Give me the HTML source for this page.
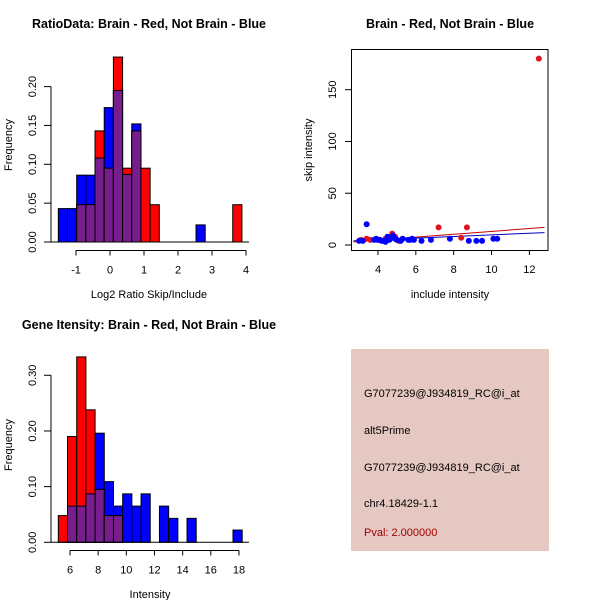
<!DOCTYPE html>
<html><head><meta charset="utf-8"><style>
body{margin:0;background:#fff}
svg text{font-family:"Liberation Sans",sans-serif}
</style></head><body>
<svg id="c" width="600" height="600" xmlns="http://www.w3.org/2000/svg">
<rect width="600" height="600" fill="#fff"/>
<text x="149" y="28" font-size="12.5" font-weight="bold" text-anchor="middle">RatioData: Brain - Red, Not Brain - Blue</text>
<text x="450" y="28" font-size="12.5" font-weight="bold" text-anchor="middle">Brain - Red, Not Brain - Blue</text>
<text x="149" y="329" font-size="12.5" font-weight="bold" text-anchor="middle">Gene Itensity: Brain - Red, Not Brain - Blue</text>
<text x="149" y="298" font-size="11" text-anchor="middle">Log2 Ratio Skip/Include</text>
<text x="150" y="598" font-size="11" text-anchor="middle">Intensity</text>
<text x="450" y="298" font-size="11" text-anchor="middle">include intensity</text>
<text transform="translate(12,145) rotate(-90)" font-size="11" text-anchor="middle">Frequency</text>
<text transform="translate(12,445) rotate(-90)" font-size="11" text-anchor="middle">Frequency</text>
<text transform="translate(312,150) rotate(-90)" font-size="11" text-anchor="middle">skip intensity</text>
<g>
<rect x="351" y="349" width="198" height="202" fill="#e6c8c2"/>
<text x="364" y="397" font-size="11">G7077239@J934819_RC@i_at</text>
<text x="364" y="434" font-size="11">alt5Prime</text>
<text x="364" y="471" font-size="11">G7077239@J934819_RC@i_at</text>
<text x="364" y="507" font-size="11">chr4.18429-1.1</text>
<text x="364" y="536" font-size="11" fill="#a00000">Pval: 2.000000</text>
</g>
</svg>
<script>
// Ratio histogram data
const ratioStart = -1.52, ratioWidth = 0.27;
const ratioBlue = [0.043,0.043,0.086,0.086,0.108,0.173,0.195,0.087,0.152,0,0,0,0,0,0,0.022,0,0,0,0];
const ratioRed  = [0,0,0.048,0.048,0.143,0.095,0.238,0.095,0.143,0.095,0.048,0,0,0,0,0,0,0,0,0.048];
const ratioXTicks = [-1,0,1,2,3,4];
const ratioYTicks = ["0.00","0.05","0.10","0.15","0.20"];
// Intensity histogram data
const intStart = 5.17, intWidth = 0.653;
const intBlue = [0,0.065,0.065,0.087,0.196,0.109,0.065,0.087,0.065,0.087,0,0.065,0.043,0,0.043,0,0,0,0,0.022];
const intRed  = [0.048,0.19,0.333,0.238,0.095,0.048,0.048,0,0,0,0,0,0,0,0,0,0,0,0,0];
const intXTicks = [6,8,10,12,14,16,18];
const intYTicks = ["0.00","0.10","0.20","0.30"];
// Scatter data
const redX = [12.5,7.2,8.7,8.4,4.75,3.4,3.1,4.9,4.4,5.1,4.0,3.6];
const redY = [180,17,17,7,11,6,5,8,6,4,5,5];
const blueX = [3.4,3.0,3.2,3.8,3.9,4.0,4.1,4.2,4.3,4.4,4.5,4.6,4.7,4.8,4.9,5.0,5.2,5.3,5.6,5.7,5.8,5.9,6.3,6.8,7.8,8.8,9.2,9.5,10.1,10.3];
const blueY = [20,4,4,5,6,5,5,4,4,3,8,5,7,9,6,5,4,6,5,5,6,5,4,5,6,4,4,4,6,6];
const lineX = [2.7,12.8];
const redLineY = [3,17];
const blueLineY = [4,12];
const scXTicks = [4,6,8,10,12];
const scYTicks = [0,50,100,150];

const svg = document.getElementById('c');
const NS = 'http://www.w3.org/2000/svg';
function mk(tag, attrs){const e=document.createElementNS(NS,tag);for(const k in attrs)e.setAttribute(k,attrs[k]);svg.appendChild(e);return e;}
const PURPLE='#781e8c';

function hist(start,width,blue,red,xs,ys,xTicks,yTicks,axisY,prefix){
  const n=blue.length;
  for(let i=0;i<n;i++){
    const x0=xs(start+i*width), x1=xs(start+(i+1)*width);
    const b=blue[i], r=red[i], m=Math.min(b,r);
    if(b>0){const e=mk('rect',{x:x0,y:ys(b),width:x1-x0,height:ys(0)-ys(b),fill:'#0000ff',stroke:'#000','stroke-width':1});
      
      }
    if(r>0){const e=mk('rect',{x:x0,y:ys(r),width:x1-x0,height:ys(0)-ys(r),fill:'#ff0000',stroke:'#000','stroke-width':1});
      
      }
    if(m>0){const e=mk('rect',{x:x0,y:ys(m),width:x1-x0,height:ys(0)-ys(m),fill:PURPLE,stroke:'#000','stroke-width':1});
      
      }
  }
  mk('line',{x1:51,x2:249,y1:ys(0),y2:ys(0),stroke:'#000'});
  const yv=yTicks.map(Number);
  mk('line',{x1:51,x2:51,y1:ys(yv[0]),y2:ys(yv[yv.length-1]),stroke:'#000'});
  yTicks.forEach(t=>{const y=ys(+t);mk('line',{x1:44,x2:51,y1:y,y2:y,stroke:'#000'});
    const tx=mk('text',{transform:`translate(36,${y}) rotate(-90)`,'font-size':11,'text-anchor':'middle'});tx.textContent=t;
    
    });
  mk('line',{x1:xs(xTicks[0]),x2:xs(xTicks[xTicks.length-1]),y1:axisY,y2:axisY,stroke:'#000'});
  xTicks.forEach(t=>{const x=xs(t);mk('line',{x1:x,x2:x,y1:axisY,y2:axisY+5,stroke:'#000'});
    const tx=mk('text',{x:x,y:axisY+23,'font-size':11,'text-anchor':'middle'});tx.textContent=t;
    
    });
}
hist(ratioStart,ratioWidth,ratioBlue,ratioRed,v=>76+(v+1)*34,v=>242-v*777,ratioXTicks,ratioYTicks,250.5,'ratio');
hist(intStart,intWidth,intBlue,intRed,v=>70+(v-6)*14.08,v=>542.3-v*556.7,intXTicks,intYTicks,550.5,'intensity');

const sx=v=>378+(v-4)*18.92, sy=v=>245-v*1.0353;
mk('rect',{x:351.5,y:49.5,width:196.5,height:201,fill:'none',stroke:'#000'});
const clip=mk('clipPath',{id:'clp'});
const cr=document.createElementNS(NS,'rect');cr.setAttribute('x',352);cr.setAttribute('y',50);cr.setAttribute('width',196);cr.setAttribute('height',200);clip.appendChild(cr);
const rl=mk('line',{x1:sx(lineX[0]),x2:sx(lineX[1]),y1:sy(redLineY[0]),y2:sy(redLineY[1]),stroke:'#c00000','clip-path':'url(#clp)'});


const bl=mk('line',{x1:sx(lineX[0]),x2:sx(lineX[1]),y1:sy(blueLineY[0]),y2:sy(blueLineY[1]),stroke:'#0000c0','clip-path':'url(#clp)'});


redX.forEach((x,i)=>{const e=mk('circle',{cx:sx(x),cy:sy(redY[i]),r:3,fill:'#e0151f'});
  
  });
blueX.forEach((x,i)=>{const e=mk('circle',{cx:sx(x),cy:sy(blueY[i]),r:3,fill:'#0000ff'});
  
  });
scXTicks.forEach(t=>{const x=sx(t);mk('line',{x1:x,x2:x,y1:250,y2:255,stroke:'#000'});
  const tx=mk('text',{x:x,y:273,'font-size':11,'text-anchor':'middle'});tx.textContent=t;
  
  });
scYTicks.forEach(t=>{const y=sy(t);mk('line',{x1:345,x2:351,y1:y,y2:y,stroke:'#000'});
  const tx=mk('text',{transform:`translate(336,${y}) rotate(-90)`,'font-size':11,'text-anchor':'middle'});tx.textContent=t;
  
  });
</script>
</body></html>
